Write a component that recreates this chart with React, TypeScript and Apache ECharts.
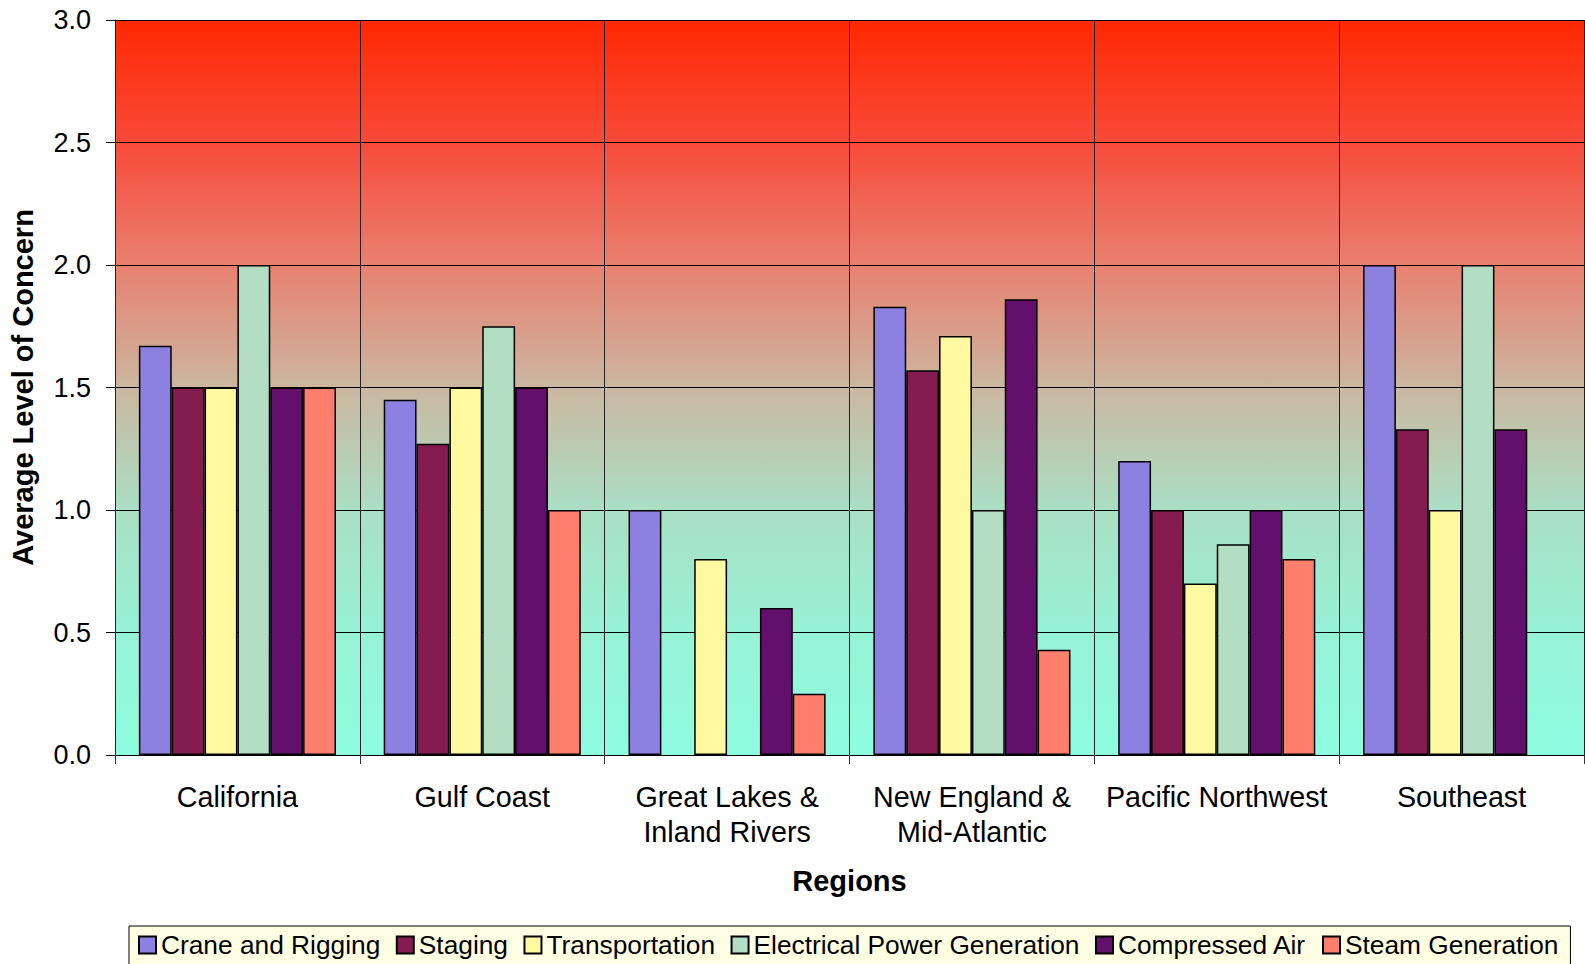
import React, { useEffect, useRef } from "react";
import * as echarts from "echarts";

const regions = [
  "California",
  "Gulf Coast",
  "Great Lakes &\nInland Rivers",
  "New England &\nMid-Atlantic",
  "Pacific Northwest",
  "Southeast",
];

const seriesNames = [
  "Crane and Rigging",
  "Staging",
  "Transportation",
  "Electrical Power Generation",
  "Compressed Air",
  "Steam Generation",
];

const craneAndRigging = [1.67, 1.45, 1.0, 1.83, 1.2, 2.0];
const staging = [1.5, 1.27, null, 1.57, 1.0, 1.33];
const transportation = [1.5, 1.5, 0.8, 1.71, 0.7, 1.0];
const electricalPower = [2.0, 1.75, null, 1.0, 0.86, 2.0];
const compressedAir = [1.5, 1.5, 0.6, 1.86, 1.0, 1.33];
const steamGeneration = [1.5, 1.0, 0.25, 0.43, 0.8, null];

const seriesValues = [
  craneAndRigging,
  staging,
  transportation,
  electricalPower,
  compressedAir,
  steamGeneration,
];

const seriesColors = ["#8C80E0", "#841C50", "#FFFAA0", "#B3DEC3", "#630F6C", "#FF7E6C"];

const yTicks = [0, 0.5, 1.0, 1.5, 2.0, 2.5, 3.0];

const FONT = '"Liberation Sans", Arial, Helvetica, sans-serif';

export default function App() {
  const ref = useRef<HTMLDivElement>(null);

  useEffect(() => {
    if (!ref.current) return;
    const chart = echarts.init(ref.current, null, { renderer: "svg" });
    const option = {
      animation: false,
      backgroundColor: "#ffffff",
      textStyle: { fontFamily: FONT },
      grid: {
        left: 115,
        right: 1,
        top: 20,
        bottom: 209,
        show: true,
        borderWidth: 0,
        backgroundColor: new echarts.graphic.LinearGradient(0, 0, 0, 1, [
          { offset: 0, color: "#FF2800" },
          { offset: 0.167, color: "#F84A3A" },
          { offset: 0.333, color: "#E98070" },
          { offset: 0.5, color: "#CBB7A0" },
          { offset: 0.667, color: "#AADFC4" },
          { offset: 0.833, color: "#97F2D6" },
          { offset: 1, color: "#8EFDE0" },
        ]),
      },
      legend: {
        data: seriesNames,
        left: 129,
        top: 926,
        orient: "horizontal",
        icon: "rect",
        itemWidth: 17,
        itemHeight: 17,
        itemGap: 15.5,
        padding: [6, 12, 12, 9],
        backgroundColor: "#FFFFE3",
        borderColor: "#000000",
        borderWidth: 1,
        borderRadius: 0,
        textStyle: { fontFamily: FONT, fontSize: 26.3, color: "#000" },
      },
      xAxis: {
        type: "category",
        data: regions,
        boundaryGap: true,
        name: "Regions",
        nameLocation: "middle",
        nameGap: 111,
        nameTextStyle: { fontFamily: FONT, fontSize: 29, fontWeight: "bold", color: "#000" },
        axisLine: { show: true, lineStyle: { color: "#000", width: 1 } },
        axisTick: { show: true, inside: false, length: 9, lineStyle: { color: "#333" } },
        axisLabel: {
          margin: 24,
          fontFamily: FONT,
          fontSize: 28.7,
          lineHeight: 35,
          color: "#000",
          interval: 0,
        },
        splitLine: { show: true, lineStyle: { color: "#222", width: 1 } },
      },
      yAxis: {
        type: "value",
        min: 0,
        max: 3,
        interval: 0.5,
        name: "Average Level of Concern",
        nameLocation: "middle",
        nameGap: 78,
        nameTextStyle: { fontFamily: FONT, fontSize: 29, fontWeight: "bold", color: "#000" },
        axisLine: { show: true, lineStyle: { color: "#222", width: 1 } },
        axisTick: { show: true, inside: false, length: 9, lineStyle: { color: "#000" } },
        axisLabel: {
          margin: 24,
          fontFamily: FONT,
          fontSize: 27,
          color: "#000",
          formatter: (v: number) => (yTicks.includes(v) ? v.toFixed(1) : ""),
        },
        splitLine: { show: true, lineStyle: { color: "#000", width: 1 } },
      },
      series: seriesNames.map((name, i) => ({
        name,
        type: "bar",
        data: seriesValues[i],
        barGap: "0%",
        barCategoryGap: "19.5%",
        itemStyle: { color: seriesColors[i], borderColor: "#000", borderWidth: 1.5 },
        emphasis: { disabled: true },
      })),
    };
    chart.setOption(option);
    return () => chart.dispose();
  }, []);

  return (
    <div
      ref={ref}
      style={{ position: "absolute", left: 0, top: 0, width: 1585, height: 964 }}
    />
  );
}
